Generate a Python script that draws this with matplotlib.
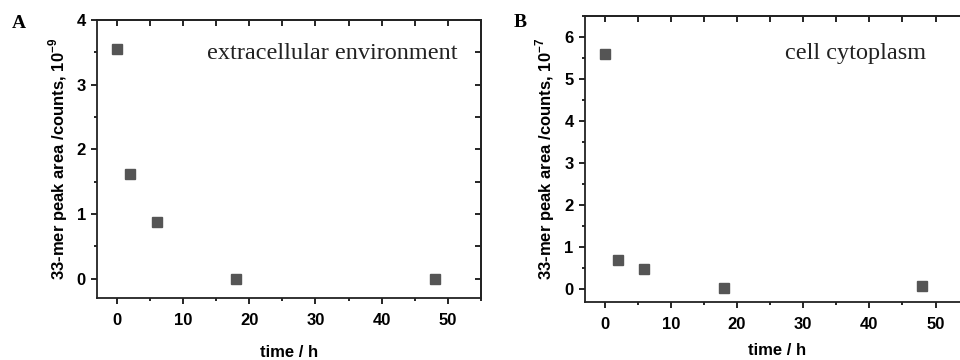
import matplotlib.pyplot as plt
from matplotlib.ticker import MultipleLocator

plt.rcParams['font.family'] = ['Liberation Sans', 'DejaVu Sans']
plt.rcParams['mathtext.fontset'] = 'custom'
plt.rcParams['mathtext.rm'] = 'Liberation Sans'
plt.rcParams['mathtext.bf'] = 'Liberation Sans:bold'

# time points (h)
time_h = [0, 2, 6, 18, 48]

# panel A: extracellular environment, counts x 10^-9
extra_area = [3.55, 1.62, 0.88, 0.0, 0.0]
# panel B: cell cytoplasm, counts x 10^-7
cyto_area = [5.59, 0.69, 0.49, 0.03, 0.07]

panels = [
    ("A", "extracellular environment", extra_area, r"33-mer peak area /counts, 10$^{\mathbf{-9}}$",
     (-0.3, 4.0), [0.101, 0.172, 0.400, 0.772], (0.938, 0.88), (0.012, 0.958), 12),
    ("B", "cell cytoplasm", cyto_area, r"33-mer peak area /counts, 10$^{\mathbf{-7}}$",
     (-0.3, 6.5), [0.609, 0.161, 0.400, 0.795], (0.89, 0.87), (0.535, 0.962), 8),
]

fig = plt.figure(figsize=(9.6, 3.6), dpi=100)

for letter, label, values, ylab, ylim, pos, txtpos, letpos, xpad in panels:
    ax = fig.add_axes(pos)
    ax.plot(time_h, values, linestyle='none', marker='s', markersize=6.5,
            color='#555555', markeredgecolor='#555555')
    ax.set_xlim(-3, 55)
    ax.set_ylim(*ylim)

    ax.xaxis.set_major_locator(MultipleLocator(10))
    ax.xaxis.set_minor_locator(MultipleLocator(5))
    ax.yaxis.set_major_locator(MultipleLocator(1))
    ax.yaxis.set_minor_locator(MultipleLocator(0.5))
    ax.tick_params(which='major', direction='out', length=4, width=1.2, pad=4,
                   labelsize=12)
    ax.tick_params(which='minor', direction='out', length=2, width=1.2)
    ax.tick_params(axis='x', which='major', pad=7)
    for t in ax.get_xticklabels() + ax.get_yticklabels():
        t.set_fontweight('bold')

    # inward ticks on top and right
    top = ax.secondary_xaxis('top')
    top.xaxis.set_major_locator(MultipleLocator(10))
    top.xaxis.set_minor_locator(MultipleLocator(5))
    top.tick_params(which='both', direction='in', length=4, width=1.2, labeltop=False)
    right = ax.secondary_yaxis('right')
    right.yaxis.set_major_locator(MultipleLocator(1))
    right.yaxis.set_minor_locator(MultipleLocator(0.5))
    right.tick_params(which='both', direction='in', length=4, width=1.2, labelright=False)
    for sp in list(ax.spines.values()) + [top.spines['top'], right.spines['right']]:
        sp.set_linewidth(1.3)
        sp.set_color('#222222')

    ax.set_xlabel("time / h", fontsize=12, fontweight='bold', labelpad=xpad)
    ax.set_ylabel(ylab, fontsize=12, fontweight='bold', labelpad=5)

    ax.text(txtpos[0], txtpos[1], label, transform=ax.transAxes, ha='right', va='center',
            fontsize=17.5, family='Liberation Serif', color='#222222')
    fig.text(letpos[0], letpos[1], letter, ha='left', va='top', fontsize=14,
             fontweight='bold', family='Liberation Serif')

fig.savefig("out.png", dpi=100)
